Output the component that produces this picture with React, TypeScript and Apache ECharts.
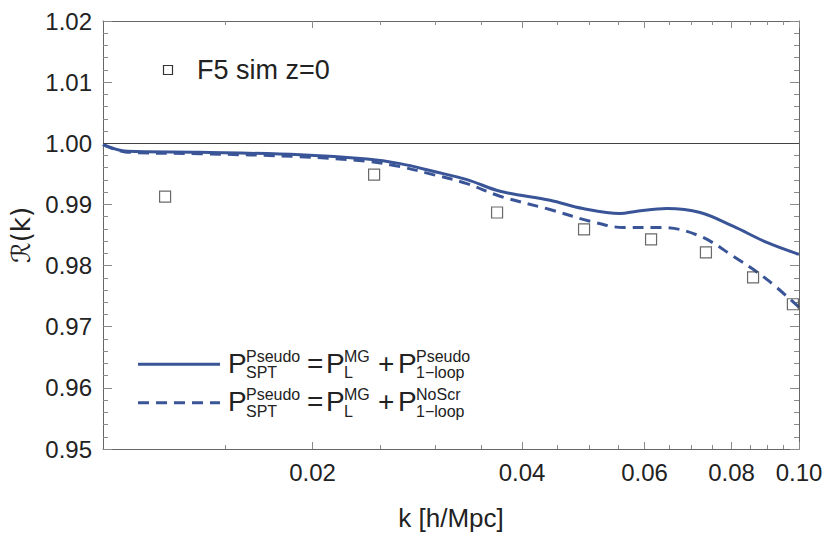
import React, { useEffect, useRef } from "react";
import * as echarts from "echarts";

// ---- data ----
const kSolid = [0.01, 0.01083, 0.01378, 0.01919, 0.02395, 0.02672, 0.0298, 0.03334, 0.0372, 0.04387, 0.04893, 0.0553, 0.0585, 0.0646, 0.0721, 0.0804, 0.0899, 0.1];
const rSolid = [0.99977, 0.99868, 0.99852, 0.99814, 0.99744, 0.99667, 0.99542, 0.99406, 0.99215, 0.99069, 0.98933, 0.98851, 0.98889, 0.98933, 0.98868, 0.98644, 0.98378, 0.98182];

const kDashed = [0.01, 0.01083, 0.01378, 0.01919, 0.02395, 0.02672, 0.0298, 0.03334, 0.0372, 0.04387, 0.0501, 0.0559, 0.0638, 0.0721, 0.0804, 0.0899, 0.1];
const rDashed = [0.99977, 0.99855, 0.9983, 0.99781, 0.99705, 0.99618, 0.99488, 0.99341, 0.99134, 0.98917, 0.98726, 0.98623, 0.98623, 0.98481, 0.98155, 0.97775, 0.97318];

const kSim = [0.01228, 0.02452, 0.03683, 0.04911, 0.0613, 0.0735, 0.0859, 0.098];
const rSim = [0.99129, 0.99488, 0.98868, 0.98591, 0.98427, 0.98215, 0.97808, 0.97367];

const xMajorTicks = [0.02, 0.04, 0.06, 0.08, 0.1];
const xMinorTicks = [0.015, 0.025, 0.03, 0.035, 0.045, 0.05, 0.055, 0.065, 0.07, 0.075, 0.085, 0.09, 0.095];
const xRange = [0.01, 0.1];
const yRange = [0.95, 1.02];
const yStep = 0.01;
const refLine = 1.0;

const simLabel = "F5 sim z=0";

const FONT = "'Liberation Sans', Arial, 'DejaVu Sans', sans-serif";
const BLUE = "#3A5597";
const TXT = "#222";
const FRAME = "#666";
const TICK = "#8a8a8a";

function txt(x: number, y: number, text: string, size: number) {
  return {
    type: "text",
    x,
    y,
    silent: true,
    style: {
      text,
      fontSize: size,
      fontFamily: FONT,
      fill: TXT,
      align: "left",
      verticalAlign: "middle",
      textAlign: "left",
      textVerticalAlign: "middle",
    },
  };
}

function mathRow(c: number, lastSup: string) {
  const big = 28;
  const small = 16;
  const up = -7;
  const down = 9.5;
  return [
    txt(228, c, "P", big),
    txt(246, c + up, "Pseudo", small),
    txt(246, c + down, "SPT", small),
    txt(307, c, "=", big),
    txt(326, c, "P", big),
    txt(344, c + up, "MG", small),
    txt(344, c + down, "L", small),
    txt(378, c, "+", big),
    txt(398, c, "P", big),
    txt(416, c + up, lastSup, small),
    txt(416, c + down, "1\u2212loop", small),
  ];
}

export default function App() {
  const ref = useRef<HTMLDivElement>(null);
  useEffect(() => {
    if (!ref.current) return;
    document.body.style.margin = "0";
    const chart = echarts.init(ref.current, undefined, { renderer: "svg" });
    const lx = (v: number) => Math.log10(v);
    const lmin = lx(xRange[0]);
    const lmax = lx(xRange[1]);
    const tickAxis = (pos: "top" | "bottom", values: number[], len: number, labels: boolean, line: boolean) => ({
      type: "value",
      position: pos,
      min: lmin,
      max: lmax,
      axisLine: { show: line, onZero: false, lineStyle: { color: FRAME, width: 1 } },
      axisTick: { show: true, inside: true, length: len, customValues: values.map(lx), lineStyle: { color: TICK, width: 1 } },
      axisLabel: labels
        ? {
            show: true,
            customValues: values.map(lx),
            formatter: (v: number) => Math.pow(10, v).toFixed(2),
            fontSize: 24,
            fontFamily: FONT,
            color: TXT,
            margin: 11,
          }
        : { show: false },
      splitLine: { show: false },
    });

    const yAxisBase = (pos: "left" | "right", labels: boolean) => ({
      type: "value",
      position: pos,
      min: yRange[0],
      max: yRange[1],
      interval: yStep,
      axisLine: { show: true, onZero: false, lineStyle: { color: FRAME, width: 1 } },
      axisTick: { show: true, inside: true, length: 9, lineStyle: { color: TICK, width: 1 } },
      minorTick: { show: true, splitNumber: 5, length: 5, lineStyle: { color: TICK, width: 1 } },
      axisLabel: labels
        ? { show: true, formatter: (v: number) => v.toFixed(2), fontSize: 24, fontFamily: FONT, color: TXT, margin: 11 }
        : { show: false },
      splitLine: { show: false },
      minorSplitLine: { show: false },
    });

    chart.setOption({
      animation: false,
      backgroundColor: "#fff",
      grid: { left: 103, right: 31, top: 21, bottom: 86, containLabel: false },
      xAxis: [
        {
          type: "log",
          logBase: 10,
          min: xRange[0],
          max: xRange[1],
          position: "bottom",
          name: "k [h/Mpc]",
          nameLocation: "middle",
          nameGap: 56,
          nameTextStyle: { fontSize: 26, fontFamily: FONT, color: TXT },
          axisLine: { show: true, onZero: false, lineStyle: { color: FRAME, width: 1 } },
          axisTick: { show: false },
          axisLabel: { show: false },
          splitLine: { show: false },
        },
        tickAxis("bottom", xMajorTicks, 7, true, false),
        tickAxis("bottom", xMinorTicks, 4, false, false),
        tickAxis("top", xMajorTicks, 7, false, true),
        tickAxis("top", xMinorTicks, 4, false, false),
      ],
      yAxis: [
        {
          ...yAxisBase("left", true),
          name: "\u211B(k)",
          nameLocation: "middle",
          nameGap: 62,
          nameRotate: 90,
          nameTextStyle: { fontSize: 26, fontFamily: "'DejaVu Sans', " + FONT, color: TXT },
        },
        yAxisBase("right", false),
      ],
      series: [
        {
          type: "line",
          xAxisIndex: 0,
          yAxisIndex: 0,
          data: kSolid.map((k, i) => [k, rSolid[i]]),
          smooth: 0.35,
          showSymbol: false,
          lineStyle: { color: BLUE, width: 3 },
          markLine: {
            silent: true,
            symbol: "none",
            label: { show: false },
            lineStyle: { color: "#444", width: 1, type: "solid" },
            data: [{ yAxis: refLine }],
          },
          z: 3,
        },
        {
          type: "line",
          xAxisIndex: 0,
          yAxisIndex: 0,
          data: kDashed.map((k, i) => [k, rDashed[i]]),
          smooth: 0.35,
          showSymbol: false,
          lineStyle: { color: BLUE, width: 3, type: [11, 7] },
          z: 3,
        },
        {
          type: "scatter",
          xAxisIndex: 0,
          yAxisIndex: 0,
          data: kSim.map((k, i) => [k, rSim[i]]),
          symbol: "rect",
          symbolSize: 11,
          itemStyle: { color: "rgba(255,255,255,0)", borderColor: "#444", borderWidth: 1.2 },
          z: 4,
        },
      ],
      graphic: [
        {
          type: "rect",
          shape: { x: 163.5, y: 65.5, width: 9, height: 9 },
          style: { fill: "none", stroke: "#333", lineWidth: 1.2 },
          silent: true,
        },
        txt(197, 70, simLabel, 27),
        {
          type: "line",
          shape: { x1: 138, y1: 364.3, x2: 220, y2: 364.3 },
          style: { stroke: BLUE, lineWidth: 3 },
          silent: true,
        },
        {
          type: "line",
          shape: { x1: 138, y1: 402.7, x2: 220, y2: 402.7 },
          style: { stroke: BLUE, lineWidth: 3, lineDash: [11, 7] },
          silent: true,
        },
        ...mathRow(363, "Pseudo"),
        ...mathRow(401.5, "NoScr"),
      ],
    });
    return () => chart.dispose();
  }, []);
  return <div ref={ref} style={{ width: 830, height: 536 }} />;
}
